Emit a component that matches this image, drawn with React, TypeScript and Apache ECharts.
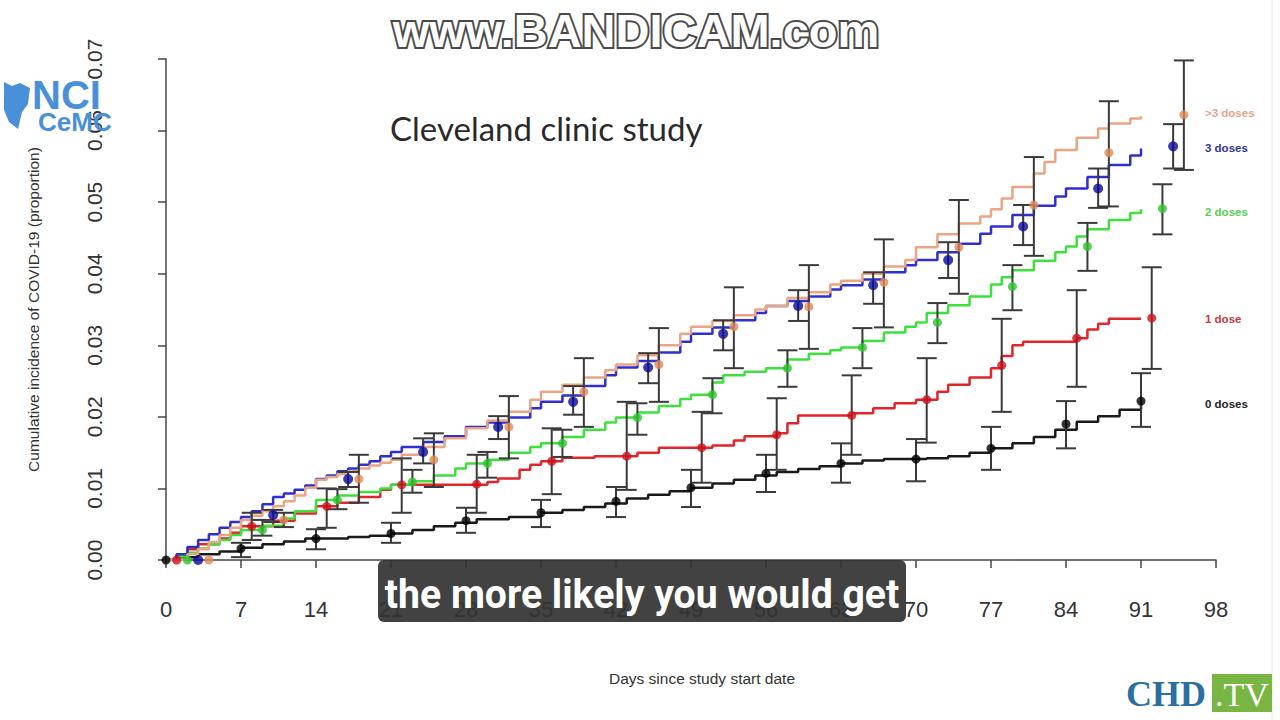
import React, { useEffect, useRef } from "react";
import * as echarts from "echarts";

// ---------- data ----------
const dose0Days = [0, 7, 14, 21, 28, 35, 42, 49, 56, 63, 70, 77, 84, 91];
const dose0Vals = [0, 0.0016, 0.003, 0.0037, 0.0055, 0.0066, 0.0082, 0.0101, 0.0121, 0.0135, 0.0141, 0.0156, 0.019, 0.0222];
const dose0Lo = [0, 0.0004, 0.0015, 0.0024, 0.0038, 0.0046, 0.006, 0.0074, 0.0095, 0.0108, 0.011, 0.0126, 0.0156, 0.0186];
const dose0Hi = [0, 0.0024, 0.0043, 0.0052, 0.0073, 0.0084, 0.0102, 0.0126, 0.0147, 0.0163, 0.0169, 0.0186, 0.0222, 0.0261];

const dose1Days = [1, 8, 15, 22, 29, 36, 43, 50, 57, 64, 71, 78, 85, 92];
const dose1Vals = [0, 0.0047, 0.0075, 0.0105, 0.0106, 0.0138, 0.0145, 0.0157, 0.0175, 0.0202, 0.0224, 0.0272, 0.031, 0.0338];
const dose1Lo = [0, 0.0028, 0.0045, 0.0066, 0.0066, 0.0092, 0.0098, 0.0108, 0.0126, 0.0147, 0.0164, 0.0207, 0.0242, 0.0267];
const dose1Hi = [0, 0.0066, 0.01, 0.0142, 0.0147, 0.0184, 0.0221, 0.0207, 0.0226, 0.0258, 0.0282, 0.0337, 0.0377, 0.0409];

const dose2Days = [2, 9, 16, 23, 30, 37, 44, 51, 58, 65, 72, 79, 86, 93];
const dose2Vals = [0, 0.0042, 0.0084, 0.0109, 0.0135, 0.0163, 0.0199, 0.0231, 0.0268, 0.0297, 0.0332, 0.0382, 0.0438, 0.0491];
const dose2Lo = [0, 0.0034, 0.0071, 0.0094, 0.0115, 0.0144, 0.0175, 0.0205, 0.0242, 0.0268, 0.0303, 0.0349, 0.0404, 0.0455];
const dose2Hi = [0, 0.0056, 0.0099, 0.0126, 0.0151, 0.0182, 0.0219, 0.0254, 0.0293, 0.0324, 0.0359, 0.0412, 0.0471, 0.0525];

const dose3Days = [3, 10, 17, 24, 31, 38, 45, 52, 59, 66, 73, 80, 87, 94];
const dose3Vals = [0, 0.0063, 0.0113, 0.0151, 0.0186, 0.0221, 0.0269, 0.0316, 0.0355, 0.0384, 0.0419, 0.0466, 0.0519, 0.0578];
const dose3Lo = [0, 0.0053, 0.0102, 0.0135, 0.0169, 0.0203, 0.0247, 0.0293, 0.0334, 0.0358, 0.0394, 0.044, 0.0492, 0.0547];
const dose3Hi = [0, 0.007, 0.0123, 0.017, 0.0201, 0.0243, 0.0289, 0.0335, 0.0377, 0.0402, 0.0444, 0.0496, 0.0547, 0.0609];

const dose4Days = [4, 11, 18, 25, 32, 39, 46, 53, 60, 67, 74, 81, 88, 95];
const dose4Vals = [0, 0.0056, 0.0113, 0.014, 0.0186, 0.0235, 0.0273, 0.0326, 0.0354, 0.0388, 0.0437, 0.0496, 0.0569, 0.0622];
const dose4Lo = [0, 0.0046, 0.008, 0.0102, 0.0142, 0.0186, 0.0221, 0.0268, 0.0295, 0.0325, 0.0372, 0.0425, 0.0494, 0.0545];
const dose4Hi = [0, 0.0066, 0.0147, 0.0177, 0.0229, 0.0282, 0.0324, 0.0381, 0.0412, 0.0448, 0.0503, 0.0563, 0.0641, 0.0698];

const line0 = [[0,0],[1,0.0004],[3,0.0008],[5,0.0012],[7,0.0017],[9,0.0022],[11,0.0026],[13,0.003],[17,0.0032],[19,0.0034],[21,0.0037],[23,0.0042],[25,0.0047],[27,0.0052],[29,0.0057],[32,0.006],[35,0.0066],[37,0.007],[39,0.0074],[41,0.0079],[43,0.0086],[45,0.0091],[47,0.0096],[49,0.0101],[51,0.0107],[53,0.0112],[55,0.0118],[57,0.0123],[59,0.0127],[61,0.0131],[63,0.0135],[65,0.0139],[67,0.0141],[71,0.0142],[73,0.0145],[75,0.015],[77,0.0156],[79,0.0163],[81,0.0172],[83,0.0182],[85,0.0193],[87,0.0201],[89,0.021],[91,0.0222]];
const line1 = [[0,0],[1,0.0008],[2,0.0015],[3,0.0022],[5,0.003],[6,0.0038],[7,0.0047],[10,0.0055],[12,0.0065],[14,0.0075],[16,0.008],[18,0.0088],[20,0.0098],[21,0.0105],[30,0.0109],[31,0.0114],[33,0.0126],[34,0.0133],[35,0.0138],[37,0.0143],[40,0.0145],[44,0.015],[46,0.0157],[51,0.016],[53,0.0167],[54,0.0173],[57,0.0177],[58,0.0191],[59,0.0202],[64,0.0205],[66,0.0212],[68,0.0219],[70,0.0224],[72,0.0235],[73,0.0245],[75,0.0255],[77,0.0268],[78,0.0285],[79,0.03],[80,0.0305],[85,0.031],[86,0.0322],[87,0.033],[88,0.0337],[91,0.0337]];
const line2 = [[0,0],[1,0.0005],[2,0.001],[3,0.0016],[4,0.0022],[5,0.0028],[6,0.0035],[7,0.0042],[9,0.0048],[11,0.0058],[12,0.0068],[14,0.0084],[16,0.009],[18,0.0095],[20,0.01],[21,0.0105],[23,0.011],[25,0.0118],[27,0.0128],[28,0.0135],[30,0.014],[32,0.015],[34,0.0158],[35,0.0163],[37,0.0172],[39,0.0182],[41,0.0192],[42,0.0199],[44,0.0206],[46,0.0215],[48,0.0225],[49,0.0231],[51,0.0248],[52,0.0258],[54,0.0263],[56,0.0268],[58,0.028],[60,0.0288],[62,0.0293],[63,0.0297],[65,0.0306],[67,0.0318],[69,0.0326],[70,0.0332],[71,0.0345],[73,0.0356],[75,0.0368],[77,0.0385],[78,0.0395],[79,0.0405],[81,0.0418],[83,0.043],[84,0.0438],[85,0.0452],[86,0.0462],[88,0.0475],[90,0.0485],[91,0.049]];
const line3 = [[0,0],[1,0.0008],[2,0.0018],[3,0.0028],[4,0.0036],[5,0.0045],[6,0.0053],[7,0.006],[8,0.0068],[9,0.0078],[10,0.0088],[11,0.0093],[12,0.0098],[13,0.0104],[14,0.0113],[15,0.0118],[16,0.0124],[17,0.0128],[18,0.0133],[19,0.0138],[20,0.0145],[21,0.0151],[22,0.0158],[24,0.0165],[26,0.0173],[28,0.0186],[30,0.0192],[32,0.0199],[34,0.0212],[35,0.0221],[37,0.023],[39,0.0243],[41,0.0258],[42,0.0269],[44,0.0278],[46,0.029],[48,0.0305],[49,0.0316],[51,0.0325],[53,0.0335],[55,0.0345],[56,0.0355],[58,0.0362],[60,0.0368],[62,0.0378],[63,0.0384],[65,0.0392],[67,0.0402],[69,0.0412],[70,0.0419],[72,0.043],[74,0.0442],[76,0.0456],[77,0.0466],[79,0.0482],[81,0.0495],[83,0.0508],[84,0.0519],[86,0.0535],[88,0.0552],[90,0.0565],[91,0.0575]];
const line4 = [[0,0],[2,0.0008],[3,0.0015],[4,0.0025],[5,0.0035],[6,0.0045],[7,0.0056],[8,0.0062],[9,0.0068],[10,0.0075],[11,0.0082],[12,0.009],[13,0.0101],[14,0.0112],[15,0.0116],[16,0.012],[17,0.0124],[18,0.0128],[19,0.0132],[20,0.0136],[21,0.014],[22,0.0147],[24,0.0158],[26,0.017],[28,0.0184],[30,0.0195],[32,0.0207],[34,0.0224],[35,0.0235],[37,0.0245],[39,0.0255],[41,0.0265],[42,0.0273],[44,0.0286],[46,0.03],[48,0.0316],[49,0.0326],[51,0.0334],[53,0.0342],[55,0.035],[56,0.0355],[58,0.0366],[60,0.0374],[62,0.0385],[63,0.039],[65,0.04],[67,0.041],[69,0.0419],[70,0.0437],[72,0.0455],[74,0.047],[76,0.048],[77,0.049],[78,0.0505],[79,0.0521],[81,0.054],[82,0.0556],[83,0.0573],[85,0.059],[87,0.0603],[88,0.061],[90,0.0617],[91,0.062]];

const groupNames = ["0 doses", "1 dose", "2 doses", "3 doses", ">3 doses"];
const groupLabelValues = [0.0218, 0.0337, 0.0486, 0.0575, 0.0624];

const LINE_COLORS = ["#1a1a1a", "#e0262a", "#3ee03e", "#2f2fcf", "#eba585"];
const DOT_COLORS = ["#000000", "#d0101a", "#2ec42e", "#0a0a9a", "#e08a5a"];
const LABEL_COLORS = ["#222222", "#c03a3a", "#55d055", "#34349a", "#e2a58a"];

const groups = [
  { days: dose0Days, vals: dose0Vals, lo: dose0Lo, hi: dose0Hi, line: line0 },
  { days: dose1Days, vals: dose1Vals, lo: dose1Lo, hi: dose1Hi, line: line1 },
  { days: dose2Days, vals: dose2Vals, lo: dose2Lo, hi: dose2Hi, line: line2 },
  { days: dose3Days, vals: dose3Vals, lo: dose3Lo, hi: dose3Hi, line: line3 },
  { days: dose4Days, vals: dose4Vals, lo: dose4Lo, hi: dose4Hi, line: line4 },
];

const errorBarRender = (params: any, api: any) => {
  const x = api.value(0);
  const lo = api.value(1);
  const hi = api.value(2);
  const top = api.coord([x, hi]);
  const bot = api.coord([x, lo]);
  const w = 10;
  const style = { stroke: "#3a3a3a", lineWidth: 2, fill: "none" };
  return {
    type: "group",
    children: [
      { type: "line", shape: { x1: top[0], y1: top[1], x2: bot[0], y2: bot[1] }, style },
      { type: "line", shape: { x1: top[0] - w, y1: top[1], x2: top[0] + w, y2: top[1] }, style },
      { type: "line", shape: { x1: bot[0] - w, y1: bot[1], x2: bot[0] + w, y2: bot[1] }, style },
    ],
  };
};

export default function App() {
  const ref = useRef<HTMLDivElement>(null);
  useEffect(() => {
    const chart = echarts.init(ref.current!, null, { renderer: "svg" });
    const series: any[] = [];
    groups.forEach((g, i) => {
      series.push({
        type: "line",
        name: groupNames[i] + " curve",
        data: g.line,
        step: "end",
        symbol: "none",
        lineStyle: { color: LINE_COLORS[i], width: 2.5 },
        z: 2,
      });
    });
    groups.forEach((g, i) => {
      series.push({
        type: "custom",
        name: groupNames[i] + " CI",
        renderItem: errorBarRender,
        encode: { x: 0, y: [1, 2] },
        data: g.days.map((d, k) => [d, g.lo[k], g.hi[k]]).filter((r) => r[2] > r[1]),
        z: 3,
      });
    });
    groups.forEach((g, i) => {
      series.push({
        type: "scatter",
        name: groupNames[i],
        data: g.days.map((d, k) => [d, g.vals[k]]),
        symbol: "circle",
        symbolSize: i === 3 ? 10 : 9,
        itemStyle: { color: DOT_COLORS[i] },
        z: 5,
      });
    });

    const rightLabels = groupNames.map((n, i) => ({
      type: "text",
      x: 1205,
      y: 560 - (groupLabelValues[i] / 0.07) * 501,
      style: {
        text: n,
        fill: LABEL_COLORS[i],
        font: "bold 11.5px 'Liberation Sans', Arial, sans-serif",
        textAlign: "left",
        textVerticalAlign: "middle",
      },
      z: 10,
    }));

    const option: any = {
      animation: false,
      backgroundColor: "#ffffff",
      grid: { left: 166, right: 64, top: 59, bottom: 160 },
      xAxis: {
        type: "value",
        min: 0,
        max: 98,
        interval: 7,
        offset: 12,
        axisLine: { show: true, lineStyle: { color: "#444", width: 1.5 } },
        axisTick: { show: true, length: 8, lineStyle: { color: "#444", width: 1.5 } },
        axisLabel: { fontSize: 22, color: "#333", margin: 26, fontFamily: "'Liberation Sans', Arial, sans-serif" },
        splitLine: { show: false },
      },
      yAxis: {
        type: "value",
        min: 0,
        max: 0.07,
        interval: 0.01,
        offset: 41,
        name: "Cumulative incidence of COVID-19 (proportion)",
        nameLocation: "middle",
        nameRotate: 90,
        nameGap: 84,
        nameTextStyle: { fontSize: 15.5, color: "#333", fontFamily: "'Liberation Sans', Arial, sans-serif" },
        axisLine: { show: true, lineStyle: { color: "#444", width: 1.5 } },
        axisTick: { show: true, length: 8, lineStyle: { color: "#444", width: 1.5 } },
        axisLabel: {
          fontSize: 21,
          color: "#333",
          rotate: 90,
          margin: 20,
          fontFamily: "'Liberation Sans', Arial, sans-serif",
          formatter: (v: number) => v.toFixed(2),
        },
        splitLine: { show: false },
      },
      series,
      graphic: [
        ...rightLabels,
        {
          type: "text",
          x: 702,
          y: 678,
          style: {
            text: "Days since study start date",
            fill: "#333",
            font: "15.5px 'Liberation Sans', Arial, sans-serif",
            textAlign: "center",
            textVerticalAlign: "middle",
          },
        },
        {
          type: "text",
          x: 390,
          y: 128,
          style: {
            text: "Cleveland clinic study",
            fill: "#2a2a2a",
            font: "33px Lato, 'Open Sans', sans-serif",
            textAlign: "left",
            textVerticalAlign: "middle",
          },
        },
        // BANDICAM watermark
        {
          type: "text",
          x: 636,
          y: 30,
          style: {
            text: "www.BANDICAM.com",
            fill: "#ffffff",
            stroke: "#4a4a4a",
            lineWidth: 4,
            font: "bold 47px 'Liberation Sans', Arial, sans-serif",
            textAlign: "center",
            textVerticalAlign: "middle",
          },
          z: 20,
        },
        // NCI CeMC logo
        {
          type: "polygon",
          shape: { points: [[4, 82], [12, 86], [20, 83], [30, 88], [28, 104], [22, 112], [18, 129], [9, 122], [4, 110]] },
          style: { fill: "#4a90d9" },
          z: 20,
        },
        {
          type: "text",
          x: 32,
          y: 95,
          style: { text: "NCI", fill: "#4a90d9", font: "bold 40px 'Liberation Sans', Arial, sans-serif", textAlign: "left", textVerticalAlign: "middle" },
          z: 20,
        },
        {
          type: "text",
          x: 38,
          y: 122,
          style: { text: "CeMC", fill: "#4a90d9", font: "bold 26px 'Liberation Sans', Arial, sans-serif", textAlign: "left", textVerticalAlign: "middle" },
          z: 20,
        },
        // caption
        {
          type: "rect",
          shape: { x: 378, y: 560, width: 528, height: 62, r: 6 },
          style: { fill: "rgba(50,50,50,0.92)" },
          z: 30,
        },
        {
          type: "text",
          x: 642,
          y: 594,
          scaleX: 0.98,
          style: {
            text: "the more likely you would get",
            fill: "#ffffff",
            font: "bold 40px Roboto, 'Open Sans', sans-serif",
            textAlign: "center",
            textVerticalAlign: "middle",
          },
          z: 31,
        },
        // CHD.TV logo
        {
          type: "text",
          x: 1126,
          y: 694,
          style: { text: "CHD", fill: "#2b6ea0", font: "bold 36px 'Liberation Serif', 'DejaVu Serif', serif", textAlign: "left", textVerticalAlign: "middle" },
          z: 20,
        },
        {
          type: "rect",
          shape: { x: 1212, y: 674, width: 60, height: 38 },
          style: { fill: "#78b543" },
          z: 20,
        },
        {
          type: "text",
          x: 1242,
          y: 694,
          style: { text: ".TV", fill: "#ffffff", font: "34px 'Liberation Serif', 'DejaVu Serif', serif", textAlign: "center", textVerticalAlign: "middle" },
          z: 21,
        },
        {
          type: "line",
          shape: { x1: 1272, y1: 0, x2: 1272, y2: 720 },
          style: { stroke: "#e8e8e8", lineWidth: 1 },
          z: 1,
        },
      ],
    };
    chart.setOption(option);
    return () => chart.dispose();
  }, []);
  return (
    <div
      ref={ref}
      style={{ position: "fixed", left: 0, top: 0, width: 1280, height: 720, background: "#fff" }}
    />
  );
}
